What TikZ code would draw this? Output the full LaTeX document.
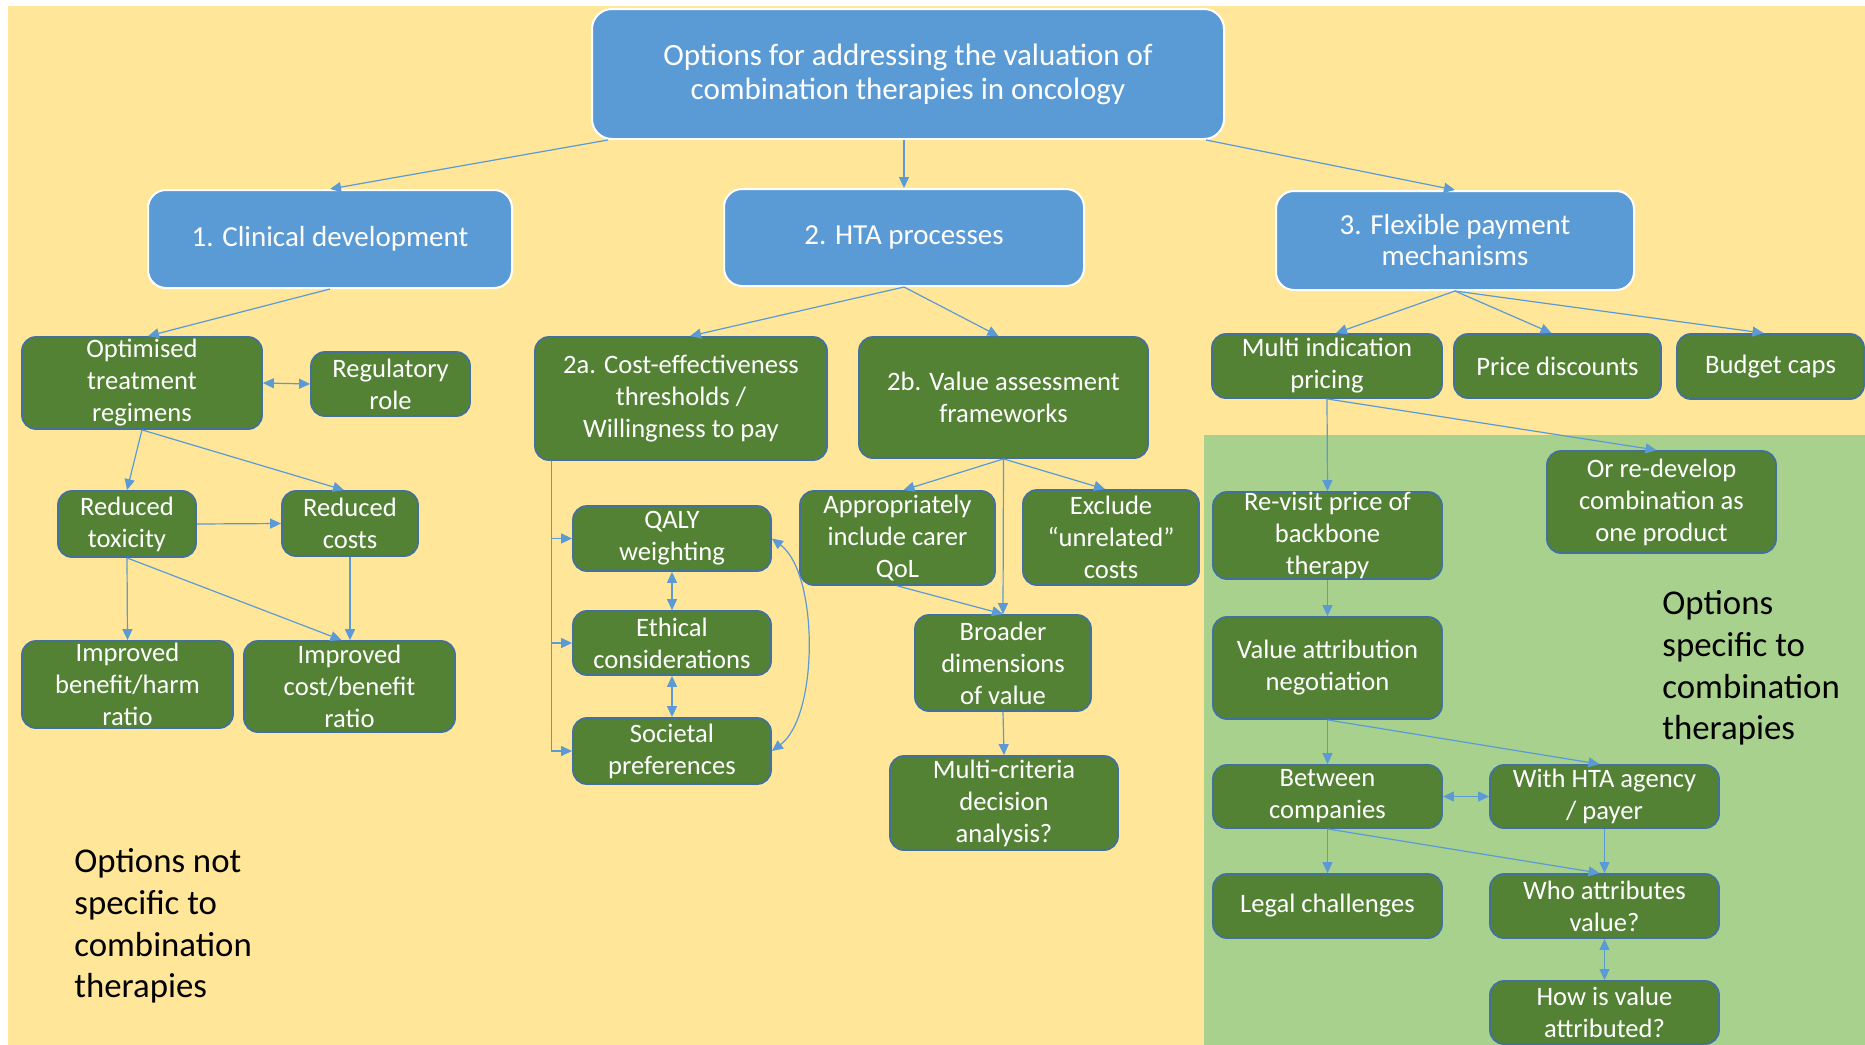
\documentclass[tikz,border=0pt]{standalone}
\usepackage{fontspec}
\setmainfont{Carlito}
\usetikzlibrary{arrows.meta,calc}
\definecolor{bgY}{HTML}{FFE699}
\definecolor{bgG}{HTML}{A9D18E}
\definecolor{blueC}{HTML}{5B9BD5}
\definecolor{greenC}{HTML}{548235}
\definecolor{borderC}{HTML}{41719C}
\definecolor{arrowC}{HTML}{5B9BD5}
\tikzset{
  bluebox/.style={draw=white, line width=1pt, fill=blueC, rounded corners=9pt, text=white, align=center, inner sep=0pt, font=\fontsize{14.5}{15.5}\selectfont},
  gbox/.style={draw=borderC, line width=0.9pt, fill=greenC, rounded corners=7pt, text=white, align=center, inner sep=0pt, font=\fontsize{13.3}{16}\selectfont},
  conn/.style={draw=arrowC, line width=0.6pt, ->},
  lbl/.style={font=\fontsize{17.4}{20.9}\selectfont, align=left, anchor=north west, inner sep=0pt, text=black}
}
\begin{document}
\begin{tikzpicture}[x=0.5pt, y=-0.5pt, >={Triangle[length=5.5pt,width=5pt]}]
\useasboundingbox (0,0) rectangle (1865,1045);
\fill[white] (0,0) rectangle (1865,1045);
\fill[bgY] (8,6) rectangle (1865,1045);
\fill[bgG] (1204,435) rectangle (1865,1045);

% top level
\node[bluebox, rounded corners=10pt, minimum width=316pt, minimum height=65pt, font=\fontsize{15.5}{17}\selectfont] (title) at (908,74) {Options for addressing the valuation of\\combination therapies in oncology};
\node[bluebox, minimum width=182pt, minimum height=49pt] (clin) at (330,239) {1. Clinical development};
\node[bluebox, minimum width=180pt, minimum height=48.5pt] (hta) at (904,237.5) {2. HTA processes};
\node[bluebox, minimum width=179pt, minimum height=49.5pt] (flex) at (1455,240.5) {3. Flexible payment\\mechanisms};

% clinical development branch
\node[gbox, minimum width=120pt, minimum height=46pt] (opt) at (142,383) {Optimised\\treatment\\regimens};
\node[gbox, minimum width=79.5pt, minimum height=32pt] (reg) at (390.5,384) {Regulatory\\role};
\node[gbox, minimum width=69pt, minimum height=33pt] (redtox) at (127,524) {Reduced\\toxicity};
\node[gbox, minimum width=68pt, minimum height=32.5pt] (redcost) at (350,523.5) {Reduced\\costs};
\node[gbox, minimum width=105.5pt, minimum height=43.5pt] (impbh) at (127.5,684.5) {Improved\\benefit/harm\\ratio};
\node[gbox, minimum width=105.5pt, minimum height=45.5pt] (impcb) at (349.5,686.5) {Improved\\cost/benefit\\ratio};

% HTA branch
\node[gbox, minimum width=146pt, minimum height=61.5pt] (cea) at (681,398.5) {2a. Cost-effectiveness\\thresholds /\\Willingness to pay};
\node[gbox, minimum width=144.5pt, minimum height=60.5pt] (vaf) at (1003.5,397.5) {2b. Value assessment\\frameworks};
\node[gbox, minimum width=99pt, minimum height=32.5pt] (qaly) at (672,538.5) {QALY\\weighting};
\node[gbox, minimum width=99pt, minimum height=32pt] (eth) at (672,643) {Ethical\\considerations};
\node[gbox, minimum width=99pt, minimum height=33pt] (soc) at (672,751) {Societal\\preferences};
\node[gbox, minimum width=97.5pt, minimum height=47pt] (carer) at (897.5,538) {Appropriately\\include carer\\QoL};
\node[gbox, minimum width=88pt, minimum height=47.5pt] (excl) at (1111,537.5) {Exclude\\“unrelated”\\costs};
\node[gbox, minimum width=88pt, minimum height=48pt] (broad) at (1003,663) {Broader\\dimensions\\of value};
\node[gbox, minimum width=114pt, minimum height=47pt] (mcda) at (1004,803) {Multi-criteria\\decision\\analysis?};

% payment branch
\node[gbox, minimum width=115pt, minimum height=32pt] (multi) at (1327,366) {Multi indication\\pricing};
\node[gbox, minimum width=103.5pt, minimum height=32pt] (price) at (1557.5,366) {Price discounts};
\node[gbox, minimum width=93.5pt, minimum height=32.5pt] (budget) at (1770.5,366.5) {Budget caps};
\node[gbox, minimum width=114.5pt, minimum height=43.5pt] (revisit) at (1327.5,535.5) {Re-visit price of\\backbone\\therapy};
\node[gbox, minimum width=114.5pt, minimum height=51pt] (redev) at (1661.5,502) {Or re-develop\\combination as\\one product};
\node[gbox, minimum width=114.5pt, minimum height=51pt] (valatt) at (1327.5,668) {Value attribution\\negotiation};
\node[gbox, minimum width=114.5pt, minimum height=31.5pt] (between) at (1327.5,796.5) {Between\\companies};
\node[gbox, minimum width=114.5pt, minimum height=31.5pt] (withhta) at (1604.5,796.5) {With HTA agency\\/ payer};
\node[gbox, minimum width=114.5pt, minimum height=32pt] (legal) at (1327.5,906) {Legal challenges};
\node[gbox, minimum width=114.5pt, minimum height=32pt] (who) at (1604.5,906) {Who attributes\\value?};
\node[gbox, minimum width=114.5pt, minimum height=31.5pt] (how) at (1604.5,1012.5) {How is value\\attributed?};

% labels
\node[lbl] (lblnot) at (74,848) {Options not\\specific to\\combination\\therapies};
\node[lbl] (lblspec) at (1662,590) {Options\\specific to\\combination\\therapies};

% connectors top level
\draw[conn] ($(title.south west)+(17,0)$) -- (clin.north);
\draw[conn] (hta.north |- title.south) -- (hta.north);
\draw[conn] ($(title.south east)+(-19,0)$) -- (flex.north);

% clinical
\draw[conn] (clin.south) -- ($(opt.north)+(6,0)$);
\draw[conn, <->] (opt.east) -- (reg.west);
\draw[conn] (opt.south) -- (redtox.north);
\draw[conn] (opt.south) -- ($(redcost.north)+(-6,0)$);
\draw[conn] (redtox.east) -- (redcost.west);
\draw[conn] (redtox.south) -- (impbh.north);
\draw[conn] (redtox.south) -- ($(impcb.north)+(-8,0)$);
\draw[conn] (redcost.south) -- (impcb.north -| redcost.south);

% HTA
\draw[conn] (hta.south) -- ($(cea.north)+(9,0)$);
\draw[conn] (hta.south) -- ($(vaf.north)+(-5,0)$);
\coordinate (bus) at ($(cea.south west)+(17,0)$);
\draw[conn] (bus) |- (qaly.west);
\draw[conn] (bus) |- (eth.west);
\draw[conn] (bus) |- (soc.west);
\draw[conn, <->] (qaly.south) -- (eth.north);
\draw[conn, <->] (eth.south) -- (soc.north);
\draw[conn, <->] (qaly.east) .. controls +(47,35) and +(47,-35) .. (soc.east);
\draw[conn] (vaf.south) -- ($(carer.north)+(6,0)$);
\draw[conn] (vaf.south) -- ($(excl.north)+(-6,0)$);
\draw[conn] (vaf.south) -- (broad.north);
\draw[conn] (carer.south) -- (broad.north);
\draw[conn] (broad.south) -- (mcda.north);

% payment
\draw[conn] (flex.south) -- ($(multi.north)+(9,0)$);
\draw[conn] (flex.south) -- ($(price.north)+(-6,0)$);
\draw[conn] (flex.south) -- ($(budget.north)+(-7,0)$);
\draw[conn] (multi.south) -- (revisit.north);
\draw[conn] (multi.south) -- ($(redev.north)+(-5,0)$);
\draw[conn] (revisit.south) -- (valatt.north);
\draw[conn] (valatt.south) -- (between.north);
\draw[conn] (valatt.south) -- ($(withhta.north)+(-5,0)$);
\draw[conn, <->] (between.east) -- (withhta.west);
\draw[conn] (between.south) -- (legal.north);
\draw[conn] (between.south) -- ($(who.north)+(-5,0)$);
\draw[conn] (withhta.south) -- (who.north);
\draw[conn, <->] (who.south) -- (how.north);
\end{tikzpicture}
\end{document}
